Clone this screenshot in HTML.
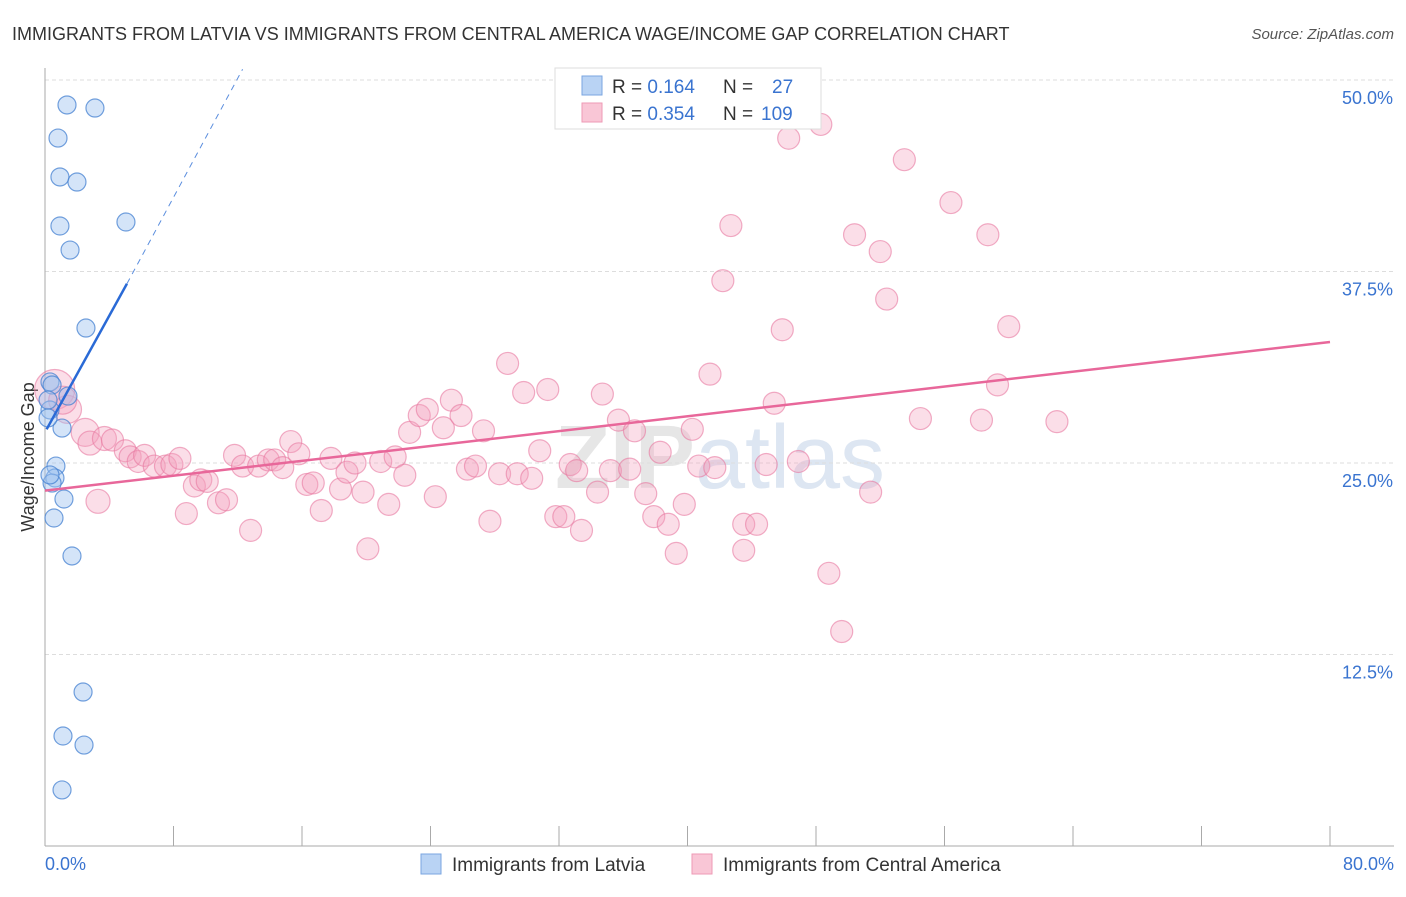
<!DOCTYPE html>
<html><head><meta charset="utf-8"><style>
body{margin:0;background:#fff;font-family:"Liberation Sans",sans-serif;}
</style></head><body>
<svg width="1406" height="892" xmlns="http://www.w3.org/2000/svg" id="svg">
<text x="12" y="40" font-size="18" fill="#333">IMMIGRANTS FROM LATVIA VS IMMIGRANTS FROM CENTRAL AMERICA WAGE/INCOME GAP CORRELATION CHART</text>
<text x="1394" y="39" font-size="15" fill="#555" font-style="italic" text-anchor="end">Source: ZipAtlas.com</text>
<text x="720" y="488" font-size="90" fill="#e6e6e6" text-anchor="middle" font-weight="bold">ZIP<tspan fill="#dde6f2" font-weight="normal">atlas</tspan></text>
<g id="grid"></g>
<line x1="45" y1="68" x2="45" y2="846" stroke="#aaa"/>
<line x1="45" y1="846" x2="1394" y2="846" stroke="#aaa"/>
<text transform="translate(34,457) rotate(-90)" font-size="18" fill="#333" text-anchor="middle">Wage/Income Gap</text>
<text x="45" y="870" font-size="18" fill="#3a74d0">0.0%</text>
<text x="1394" y="870" font-size="18" fill="#3a74d0" text-anchor="end">80.0%</text>
<g id="pts"></g>
<g id="lines"></g>
<g>
<rect x="555" y="68" width="266" height="61" fill="#fff" stroke="#ddd"/>
<rect x="582" y="76" width="20" height="19" fill="#b9d3f4" stroke="#7aa6e0"/>
<rect x="582" y="103" width="20" height="19" fill="#f9c6d6" stroke="#ee9ab5"/>
<text x="612" y="93" font-size="19" fill="#333">R = <tspan fill="#3a74d0">0.164</tspan><tspan x="723">N = </tspan><tspan x="772" fill="#3a74d0">27</tspan></text>
<text x="612" y="120" font-size="19" fill="#333">R = <tspan fill="#3a74d0">0.354</tspan><tspan x="723">N = </tspan><tspan x="761" fill="#3a74d0">109</tspan></text>
</g>
<g>
<rect x="421" y="854" width="20" height="20" fill="#b9d3f4" stroke="#7aa6e0"/>
<text x="452" y="871" font-size="19" fill="#333">Immigrants from Latvia</text>
<rect x="692" y="854" width="20" height="20" fill="#f9c6d6" stroke="#ee9ab5"/>
<text x="723" y="871" font-size="19" fill="#333">Immigrants from Central America</text>
</g>
</svg>
<script>
const yTicks=[12.5,25,37.5,50];
const yTickLabels=["12.5%","25.0%","37.5%","50.0%"];
const xTicks=[0,8,16,24,32,40,48,56,64,72,80];
const blueX=[1.37,3.11,0.81,0.93,1.99,0.93,5.04,1.56,2.55,0.31,0.44,1.43,0.31,1.06,0.19,0.68,0.62,0.44,1.18,0.56,1.68,2.37,1.12,2.43,1.06,0.19,0.31];
const blueY=[48.37,48.17,46.21,43.67,43.34,40.47,40.73,38.9,33.81,30.29,30.09,29.37,28.46,27.28,27.94,24.8,24.02,23.69,22.65,21.41,18.93,10.05,7.18,6.59,3.66,29.11,24.22];
const pinkX=[0.6,1.4,1.1,2.5,2.8,3.3,3.7,4.2,5.0,5.3,5.8,6.2,6.8,7.5,7.9,8.4,8.8,9.3,9.7,10.1,10.8,11.3,11.8,12.3,12.8,13.3,13.9,14.3,14.8,15.3,15.8,16.3,16.7,17.2,17.8,18.4,18.8,19.3,19.8,20.1,20.9,21.4,21.8,22.4,22.7,23.3,23.8,24.3,24.8,25.3,25.9,26.3,26.8,27.3,27.7,28.3,28.8,29.4,29.8,30.3,30.8,31.3,31.8,32.3,32.7,33.1,33.4,34.4,34.7,35.2,35.7,36.4,36.7,37.4,37.9,38.3,38.8,39.3,39.8,40.3,40.7,41.4,41.7,42.2,42.7,43.5,43.5,44.3,44.9,45.4,45.9,46.3,46.9,48.3,48.8,49.6,50.4,51.4,52.0,52.4,53.5,54.5,56.4,58.3,58.7,59.3,60.0,63.0];
const pinkY=[29.8,28.5,29.1,27.0,26.3,22.5,26.6,26.5,25.8,25.4,25.1,25.5,24.8,24.8,24.9,25.3,21.7,23.5,23.9,23.8,22.4,22.6,25.5,24.8,20.6,24.8,25.2,25.2,24.7,26.4,25.6,23.6,23.7,21.9,25.3,23.3,24.4,25.0,23.1,19.4,25.1,22.3,25.4,24.2,27.0,28.1,28.5,22.8,27.3,29.1,28.1,24.6,24.8,27.1,21.2,24.3,31.5,24.3,29.6,24.0,25.8,29.8,21.5,21.5,24.9,24.5,20.6,23.1,29.5,24.5,27.8,24.6,27.1,23.0,21.5,25.7,21.0,19.1,22.3,27.2,24.8,30.8,24.7,36.9,40.5,19.3,21.0,21.0,24.9,28.9,33.7,46.2,25.1,47.1,17.8,14.0,39.9,23.1,38.8,35.7,44.8,27.9,42.0,27.8,39.9,30.1,33.9,27.7];
const blueTrend=[[0.1,27.2],[5.1,36.7]];
const blueTrendDash=[[5.1,36.7],[12.3,50.7]];
const pinkTrend=[[0,23.2],[80,32.9]];
const NS="http://www.w3.org/2000/svg";
const X=v=>45+v*16.0625, Y=v=>846-v*15.32;
const grid=document.getElementById('grid'),pts=document.getElementById('pts'),lines=document.getElementById('lines');
function mk(tag,at,par){const e=document.createElementNS(NS,tag);for(const k in at)e.setAttribute(k,at[k]);par.appendChild(e);return e;}
yTicks.forEach((t,i)=>{
 const l=mk('line',{x1:45,x2:1394,y1:Y(t),y2:Y(t),stroke:'#ddd','stroke-dasharray':'4,3'},grid);
 
 
 const tx=mk('text',{x:1393,y:Y(t)+24,'font-size':18,fill:'#3a74d0','text-anchor':'end'},grid);
 tx.textContent=yTickLabels[i];
 
 
});
xTicks.forEach(t=>{
 const l=mk('line',{x1:X(t),x2:X(t),y1:826,y2:846,stroke:'#aaa'},grid);
 
 
});
pinkX.forEach((x,i)=>{
 const r=i==0?20:(i<4?14:(i<7?12:11));
 const c=mk('circle',{cx:X(x),cy:Y(pinkY[i]),r:r,fill:'rgba(244,160,188,0.35)',stroke:'rgba(232,120,160,0.6)','stroke-width':1.2},pts);
 
 
});
blueX.forEach((x,i)=>{
 const c=mk('circle',{cx:X(x),cy:Y(blueY[i]),r:9,fill:'rgba(160,196,240,0.45)',stroke:'rgba(70,130,210,0.75)','stroke-width':1.2},pts);
 
 
});
let l1=mk('line',{x1:X(blueTrend[0][0]),y1:Y(blueTrend[0][1]),x2:X(blueTrend[1][0]),y2:Y(blueTrend[1][1]),stroke:'#2a6ad6','stroke-width':2.5},lines);


let l2=mk('line',{x1:X(blueTrendDash[0][0]),y1:Y(blueTrendDash[0][1]),x2:X(blueTrendDash[1][0]),y2:Y(blueTrendDash[1][1]),stroke:'#5b8ede','stroke-width':1,'stroke-dasharray':'6,5'},lines);


let l3=mk('line',{x1:X(pinkTrend[0][0]),y1:Y(pinkTrend[0][1]),x2:X(pinkTrend[1][0]),y2:Y(pinkTrend[1][1]),stroke:'#e8679a','stroke-width':2.5},lines);


</script>
</body></html>
